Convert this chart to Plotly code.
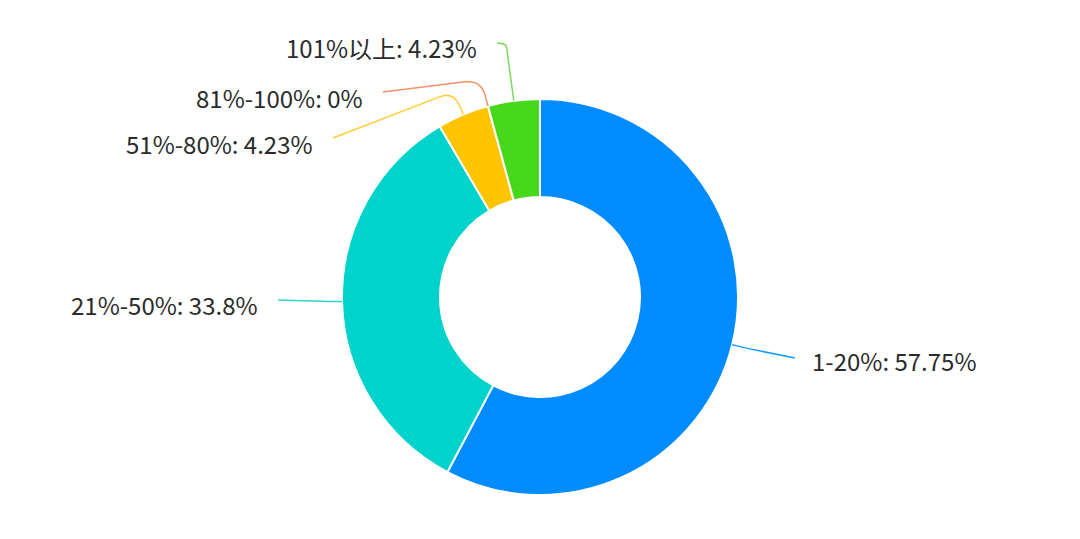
import math
import plotly.graph_objects as go

# data
labels = ["1-20%", "21%-50%", "51%-80%", "81%-100%", "101%以上"]
values = [57.75, 33.8, 4.23, 0, 4.23]
colors = ["#008cff", "#00d2cc", "#ffc400", "#ff8a5c", "#47d81c"]
line_colors = ["#1a9bff", "#2fd6d0", "#ffce3a", "#f5926a", "#7ad85a"]

W, H = 1080, 539
OFF = 8                 # page body margin, px
cx, cy = 540 - OFF, 297 - OFF   # donut centre, px in figure
r_out, r_in = 198, 100

# label layout (screen px): first leg length, end of leader line, text side
leg1 = [15, 8, 25, 27, 57]
line_end = [(795, 358), (278, 300), (333, 138), (383, 92), (497, 43)]
side = ["left", "right", "right", "right", "right"]
text_dy = [2, 4, 6, 5, 4]


def px2paper(x, y):
    return x / W, 1 - y / H


def fmt(v):
    return ("%.2f" % v).rstrip("0").rstrip(".")


fig = go.Figure()
y0 = 1 - (cy + r_out) / H
y1 = 1 - (cy - r_out) / H
x0 = (cx - r_out) / W
x1 = (cx + r_out) / W
fig.add_trace(go.Pie(
    labels=labels,
    values=values,
    hole=r_in / r_out,
    sort=False,
    direction="clockwise",
    rotation=0,
    textinfo="none",
    hoverinfo="label+percent",
    marker=dict(colors=colors, line=dict(color="white", width=2)),
    domain=dict(x=[x0, x1], y=[y0, y1]),
    showlegend=False,
))

total = sum(values)
acc = 0
shapes = []
annotations = []
for i, v in enumerate(values):
    mid = (acc + v / 2) / total * 2 * math.pi
    acc += v
    ax, ay = cx + r_out * math.sin(mid), cy - r_out * math.cos(mid)
    ex, ey = cx + (r_out + leg1[i]) * math.sin(mid), cy - (r_out + leg1[i]) * math.cos(mid)
    fx, fy = line_end[i][0] - OFF, line_end[i][1] - OFF
    # smooth corner at the elbow
    d1 = math.hypot(ex - ax, ey - ay)
    d2 = math.hypot(fx - ex, fy - ey)
    rc = min(16, d1 * 0.6, d2 * 0.4)
    p1 = (ex - (ex - ax) * rc / d1, ey - (ey - ay) * rc / d1)
    p2 = (ex + (fx - ex) * rc / d2, ey + (fy - ey) * rc / d2)
    pts = [px2paper(*p) for p in [(ax, ay), p1, (ex, ey), p2, (fx, fy)]]
    path = "M %f,%f L %f,%f Q %f,%f %f,%f L %f,%f" % tuple(c for p in pts for c in p)
    shapes.append(dict(type="path", xref="paper", yref="paper", path=path,
                       line=dict(color=line_colors[i], width=1.5)))
    tx = fx + 15 if side[i] == "left" else fx - 18
    tpx, tpy = px2paper(tx, fy + text_dy[i])
    annotations.append(dict(
        x=tpx, y=tpy, xref="paper", yref="paper",
        text="%s: %s%%" % (labels[i], fmt(v)),
        showarrow=False, xanchor=side[i], yanchor="middle",
        font=dict(size=24, color="#2b2b2b", family="Noto Sans CJK SC"),
    ))

fig.update_layout(
    width=W, height=H,
    margin=dict(l=0, r=0, t=0, b=0),
    paper_bgcolor="white",
    plot_bgcolor="white",
    shapes=shapes,
    annotations=annotations,
)

fig.write_html("out.html")
